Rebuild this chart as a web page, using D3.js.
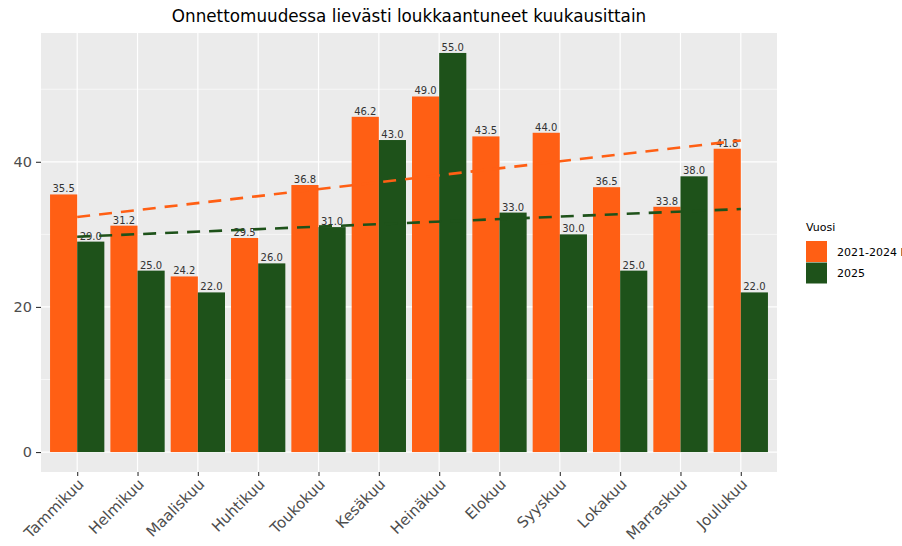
<!DOCTYPE html>
<html>
<head>
<meta charset="utf-8">
<script src="https://cdn.jsdelivr.net/npm/d3@7"></script>
<style>
  body { margin: 0; background: #fff; }
  text { font-family: "DejaVu Sans", sans-serif; }
</style>
</head>
<body>
<svg id="chart" width="902" height="546"></svg>
<script>
const months = ["Tammikuu", "Helmikuu", "Maaliskuu", "Huhtikuu", "Toukokuu", "Kesäkuu",
    "Heinäkuu", "Elokuu", "Syyskuu", "Lokakuu", "Marraskuu", "Joulukuu"];
const seriesNames = ["2021-2024 keskiarvo", "2025"];
const avgValues = [35.5, 31.2, 24.2, 29.5, 36.8, 46.2, 49.0, 43.5, 44.0, 36.5, 33.8, 41.8];
const values2025 = [29, 25, 22, 26, 31, 43, 55, 33, 30, 25, 38, 22];
const yTicks = [0, 20, 40];
const yMinor = [10, 30, 50];
const colors = ["#ff5f14", "#1e521a"];

const svg = d3.select("svg#chart");
const panel = {left: 41, right: 777, top: 33, bottom: 472};

// x: month centres, ggplot style discrete expansion
const x = d3.scalePoint()
    .domain(months)
    .range([panel.left, panel.right])
    .padding(0.6);
const step = x.step();
const xSub = d3.scaleBand()
    .domain(seriesNames)
    .range([-0.45 * step, 0.45 * step]);

const y = d3.scaleLinear()
    .domain([-2.75, 57.75])
    .range([panel.bottom, panel.top]);

const color = d3.scaleOrdinal().domain(seriesNames).range(colors);

// title
svg.append("text")
    .attr("x", (panel.left + panel.right) / 2)
    .attr("y", 22)
    .attr("text-anchor", "middle")
    .style("font-size", "16.8px")
    .attr("fill", "#000")
    .text("Onnettomuudessa lievästi loukkaantuneet kuukausittain");

// panel background + grid
svg.append("rect")
    .attr("x", panel.left).attr("y", panel.top)
    .attr("width", panel.right - panel.left)
    .attr("height", panel.bottom - panel.top)
    .attr("fill", "#ebebeb");

svg.append("g").selectAll("line")
    .data(yMinor)
    .join("line")
        .attr("x1", panel.left).attr("x2", panel.right)
        .attr("y1", d => y(d)).attr("y2", d => y(d))
        .attr("stroke", "#fff").attr("stroke-width", 0.6);

svg.append("g").selectAll("line")
    .data(yTicks)
    .join("line")
        .attr("x1", panel.left).attr("x2", panel.right)
        .attr("y1", d => y(d)).attr("y2", d => y(d))
        .attr("stroke", "#fff").attr("stroke-width", 1.2);

svg.append("g").selectAll("line")
    .data(months)
    .join("line")
        .attr("x1", d => x(d)).attr("x2", d => x(d))
        .attr("y1", panel.top).attr("y2", panel.bottom)
        .attr("stroke", "#fff").attr("stroke-width", 1.2);

// bars
const rows = [];
months.forEach((m, i) => {
    rows.push({month: m, series: seriesNames[0], value: avgValues[i]});
    rows.push({month: m, series: seriesNames[1], value: values2025[i]});
});

svg.append("g").selectAll("rect")
    .data(rows)
    .join("rect")
        .attr("x", d => x(d.month) + xSub(d.series))
        .attr("y", d => y(d.value))
        .attr("width", xSub.bandwidth())
        .attr("height", d => y(0) - y(d.value))
        .attr("fill", d => color(d.series));

// value labels
svg.append("g").selectAll("text")
    .data(rows)
    .join("text")
        .attr("x", d => x(d.month) + xSub(d.series) + xSub.bandwidth() / 2)
        .attr("y", d => y(d.value) - 2)
        .attr("text-anchor", "middle")
        .style("font-size", "10px")
        .attr("fill", "#333")
        .text(d => d.value.toFixed(1));

// linear trend lines (lm fit, like geom_smooth(method = "lm"))
function lmFit(vals) {
    const n = vals.length;
    const mx = (n + 1) / 2;
    const my = d3.mean(vals);
    let sxy = 0, sxx = 0;
    vals.forEach((v, i) => { sxy += (i + 1 - mx) * (v - my); sxx += (i + 1 - mx) ** 2; });
    const b = sxy / sxx;
    return [{i: 0, v: my + b * (1 - mx)}, {i: n - 1, v: my + b * (n - mx)}];
}

const line = d3.line()
    .x(d => x(months[d.i]))
    .y(d => y(d.v));

[avgValues, values2025].forEach((vals, k) => {
    svg.append("path")
        .datum(lmFit(vals))
        .attr("d", line)
        .attr("fill", "none")
        .attr("stroke", colors[k])
        .attr("stroke-width", 2.6)
        .attr("stroke-dasharray", "13,9");
});

// y axis
const yAxis = svg.append("g")
    .attr("transform", `translate(${panel.left},0)`)
    .call(d3.axisLeft(y).tickValues(yTicks).tickSize(5).tickPadding(4));
yAxis.select(".domain").remove();
yAxis.selectAll("line").attr("stroke", "#333").attr("stroke-width", 1.1);
yAxis.selectAll("text")
    .attr("fill", "#4d4d4d")
    .style("font-size", "14.5px")
    .style("font-family", "DejaVu Sans, sans-serif");

// x axis
const xAxis = svg.append("g")
    .attr("transform", `translate(0,${panel.bottom})`)
    .call(d3.axisBottom(x).tickSize(4).tickPadding(3));
xAxis.select(".domain").remove();
xAxis.selectAll("line").attr("stroke", "#333").attr("stroke-width", 1.1);
xAxis.selectAll("text")
    .attr("fill", "#4d4d4d")
    .style("font-size", "15px")
    .style("font-family", "DejaVu Sans, sans-serif")
    .attr("text-anchor", "end")
    .attr("dy", null)
    .attr("y", 0)
    .attr("transform", "translate(7,13) rotate(-45)");

// legend
const legend = svg.append("g").attr("transform", "translate(806,0)");
legend.append("text")
    .attr("x", 0).attr("y", 231)
    .style("font-size", "11px")
    .attr("fill", "#000")
    .text("Vuosi");
legend.selectAll("rect")
    .data(seriesNames)
    .join("rect")
        .attr("x", 0)
        .attr("y", (d, i) => 241 + i * 21.5)
        .attr("width", 21)
        .attr("height", 21)
        .attr("fill", d => color(d));
legend.selectAll("text.lab")
    .data(seriesNames)
    .join("text")
        .attr("class", "lab")
        .attr("x", 31)
        .attr("y", (d, i) => 255.5 + i * 21.5)
        .style("font-size", "11px")
        .attr("fill", "#000")
        .text(d => d);
</script>
</body>
</html>
